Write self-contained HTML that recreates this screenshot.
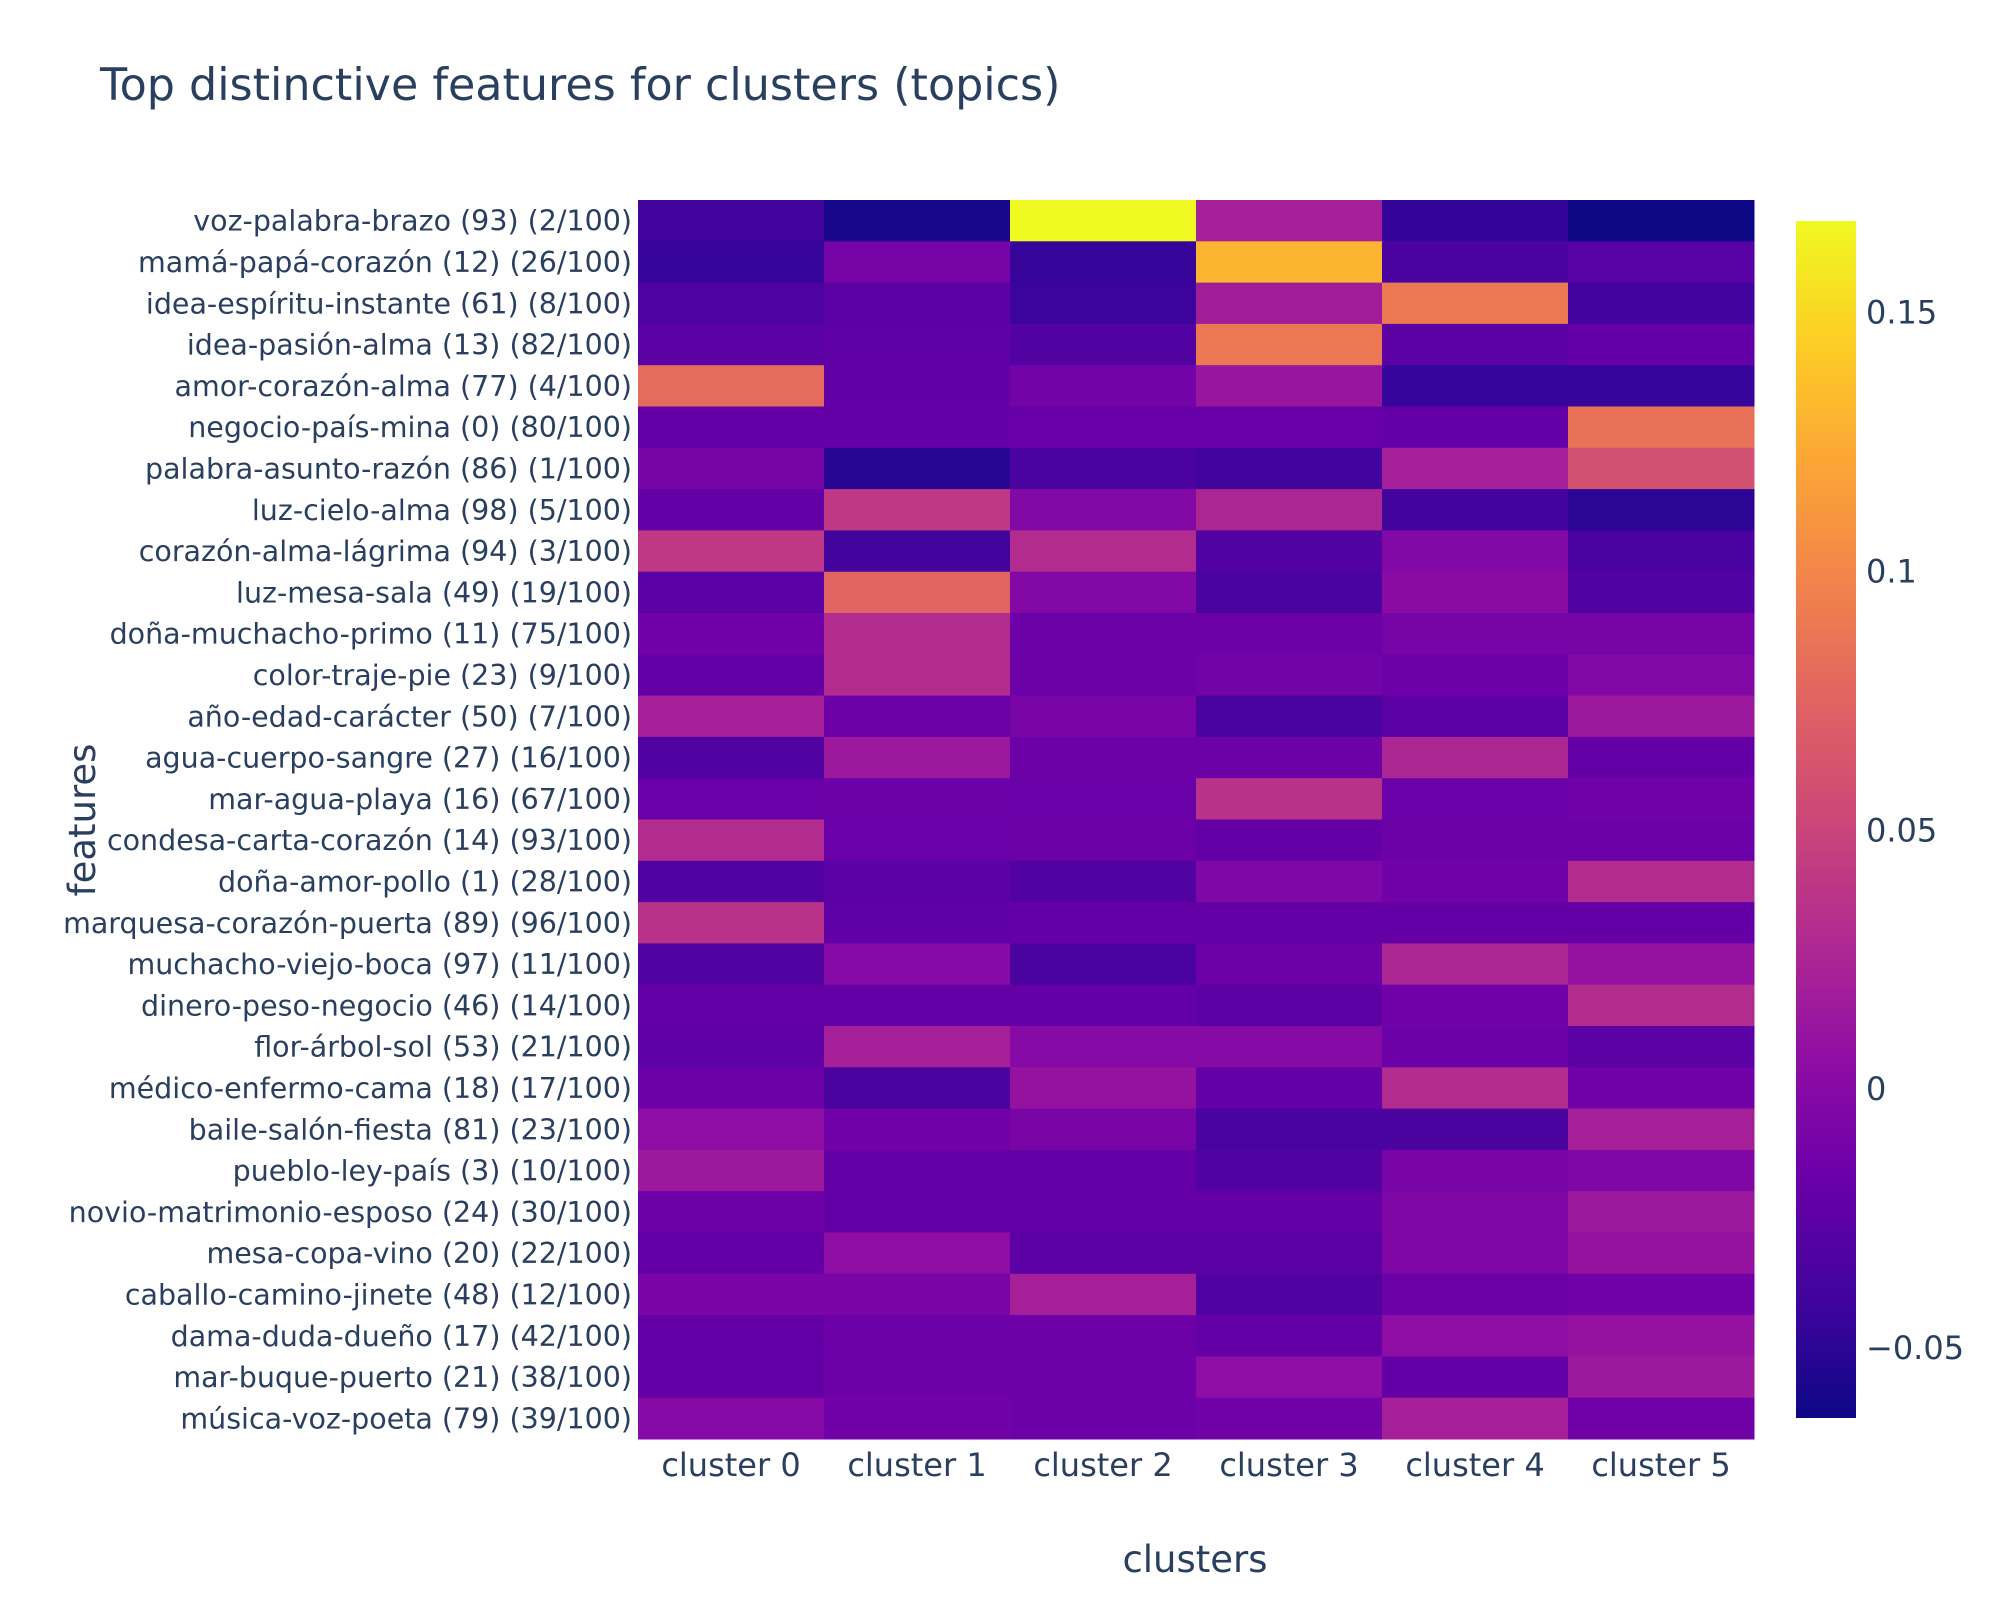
<!DOCTYPE html>
<html><head><meta charset="utf-8"><style>
html,body{margin:0;padding:0;background:#fff;width:2000px;height:1600px;overflow:hidden}
text{font-family:"DejaVu Sans","Liberation Sans",sans-serif;fill:#2a3f5f}
</style></head><body>
<svg id="chart" width="2000" height="1600" xmlns="http://www.w3.org/2000/svg">
<text x="100" y="100" font-size="44.4">Top distinctive features for clusters (topics)</text>
<g id="cells"></g>
<g id="ylabels"></g>
<g id="xlabels"></g>
<text x="1195" y="1572" font-size="37" text-anchor="middle">clusters</text>
<text transform="translate(95,820) rotate(-90)" font-size="37" text-anchor="middle">features</text>
<defs><linearGradient id="cbg" x1="0" y1="1" x2="0" y2="0"></linearGradient></defs>
<rect x="1796" y="221" width="60" height="1197" fill="url(#cbg)"></rect>
<g id="cbticks"></g>
</svg>
<script>
const categories = ["cluster 0","cluster 1","cluster 2","cluster 3","cluster 4","cluster 5"];
const features = ["voz-palabra-brazo (93) (2/100)","mamá-papá-corazón (12) (26/100)","idea-espíritu-instante (61) (8/100)","idea-pasión-alma (13) (82/100)","amor-corazón-alma (77) (4/100)","negocio-país-mina (0) (80/100)","palabra-asunto-razón (86) (1/100)","luz-cielo-alma (98) (5/100)","corazón-alma-lágrima (94) (3/100)","luz-mesa-sala (49) (19/100)","doña-muchacho-primo (11) (75/100)","color-traje-pie (23) (9/100)","año-edad-carácter (50) (7/100)","agua-cuerpo-sangre (27) (16/100)","mar-agua-playa (16) (67/100)","condesa-carta-corazón (14) (93/100)","doña-amor-pollo (1) (28/100)","marquesa-corazón-puerta (89) (96/100)","muchacho-viejo-boca (97) (11/100)","dinero-peso-negocio (46) (14/100)","flor-árbol-sol (53) (21/100)","médico-enfermo-cama (18) (17/100)","baile-salón-fiesta (81) (23/100)","pueblo-ley-país (3) (10/100)","novio-matrimonio-esposo (24) (30/100)","mesa-copa-vino (20) (22/100)","caballo-camino-jinete (48) (12/100)","dama-duda-dueño (17) (42/100)","mar-buque-puerto (21) (38/100)","música-voz-poeta (79) (39/100)"];
const values = [
[-0.04,-0.058,0.168,0.02,-0.046,-0.063],
[-0.045,-0.01,-0.045,0.13,-0.035,-0.027],
[-0.033,-0.025,-0.042,0.018,0.09,-0.04],
[-0.025,-0.023,-0.03,0.09,-0.025,-0.02],
[0.08,-0.022,-0.012,0.012,-0.045,-0.045],
[-0.02,-0.02,-0.019,-0.019,-0.02,0.085],
[-0.01,-0.052,-0.035,-0.04,0.02,0.06],
[-0.02,0.04,-0.002,0.025,-0.04,-0.05],
[0.04,-0.04,0.03,-0.03,-0.002,-0.035],
[-0.025,0.075,-0.002,-0.035,0.003,-0.03],
[-0.013,0.03,-0.016,-0.016,-0.01,-0.01],
[-0.02,0.03,-0.016,-0.012,-0.016,-0.002],
[0.02,-0.016,-0.008,-0.035,-0.025,0.015],
[-0.03,0.015,-0.016,-0.016,0.025,-0.02],
[-0.018,-0.016,-0.018,0.035,-0.018,-0.013],
[0.03,-0.018,-0.016,-0.02,-0.016,-0.016],
[-0.03,-0.025,-0.03,-0.005,-0.013,0.03],
[0.035,-0.023,-0.02,-0.02,-0.02,-0.02],
[-0.03,0.0,-0.035,-0.016,0.025,0.01],
[-0.02,-0.02,-0.02,-0.025,-0.013,0.03],
[-0.023,0.02,0.0,0.0,-0.016,-0.025],
[-0.016,-0.035,0.01,-0.02,0.03,-0.013],
[0.005,-0.013,-0.008,-0.035,-0.035,0.02],
[0.015,-0.02,-0.02,-0.03,-0.008,-0.005],
[-0.016,-0.02,-0.02,-0.02,-0.005,0.015],
[-0.02,0.005,-0.025,-0.025,-0.005,0.01],
[-0.008,-0.008,0.02,-0.03,-0.016,-0.013],
[-0.02,-0.016,-0.016,-0.02,0.005,0.01],
[-0.02,-0.016,-0.016,0.005,-0.02,0.015],
[0.0,-0.013,-0.016,-0.013,0.02,-0.013]];
const cbTicks = [-0.05,0,0.05,0.1,0.15];
const cbTickLabels = ["−0.05","0","0.05","0.1","0.15"];
</script>
<script>
const NS="http://www.w3.org/2000/svg";
const X0=638,X1=1754,Y0=200,Y1=1439;
const vmin=-0.0635,vmax=0.1677;
const stops=["#0d0887","#41049d","#6a00a8","#8f0da4","#b12a90","#cc4778","#e16462","#f2844b","#fca636","#fcce25","#f0f921"];
function hex(h){return [1,3,5].map(i=>parseInt(h.substr(i,2),16));}
function plasma(t){t=Math.max(0,Math.min(1,t));const p=t*10,i=Math.min(9,Math.floor(p)),f=p-i;const a=hex(stops[i]),b=hex(stops[i+1]);return "rgb("+a.map((v,k)=>Math.round(v+(b[k]-v)*f)).join(",")+")";}
const cw=(X1-X0)/categories.length, rh=(Y1-Y0)/features.length;
const xPos=j=>X0+j*cw, yPos=i=>Y0+i*rh, cbY=v=>1418-(v-vmin)/(vmax-vmin)*1197;
const cells=document.getElementById('cells');
values.forEach((row,i)=>row.forEach((v,j)=>{
 const r=document.createElementNS(NS,'rect');
 r.setAttribute('x',xPos(j));r.setAttribute('y',yPos(i));r.setAttribute('width',cw+0.5);r.setAttribute('height',rh+0.5);
 r.setAttribute('fill',plasma((v-vmin)/(vmax-vmin)));
 
 
 cells.appendChild(r);
}));
const yl=document.getElementById('ylabels');
features.forEach((f,i)=>{
 const t=document.createElementNS(NS,'text');
 t.setAttribute('x',X0-6);t.setAttribute('y',yPos(i)+rh/2+10);t.setAttribute('text-anchor','end');t.setAttribute('font-size','28.5');
 t.textContent=f;
 
 
 yl.appendChild(t);
});
const xl=document.getElementById('xlabels');
categories.forEach((c,j)=>{
 const t=document.createElementNS(NS,'text');
 t.setAttribute('x',xPos(j)+cw/2);t.setAttribute('y',1476);t.setAttribute('text-anchor','middle');t.setAttribute('font-size','32');
 t.textContent=c;
 
 
 xl.appendChild(t);
});
const g=document.getElementById('cbg');
stops.forEach((s,k)=>{const st=document.createElementNS(NS,'stop');st.setAttribute('offset',(k*10)+'%');st.setAttribute('stop-color',s);g.appendChild(st);});
const cbt=document.getElementById('cbticks');
cbTicks.forEach((v,k)=>{
 const t=document.createElementNS(NS,'text');
 t.setAttribute('x',1866);t.setAttribute('y',cbY(v)+11);t.setAttribute('font-size','32');
 t.textContent=cbTickLabels[k];
 
 
 cbt.appendChild(t);
});
</script>
</body></html>
